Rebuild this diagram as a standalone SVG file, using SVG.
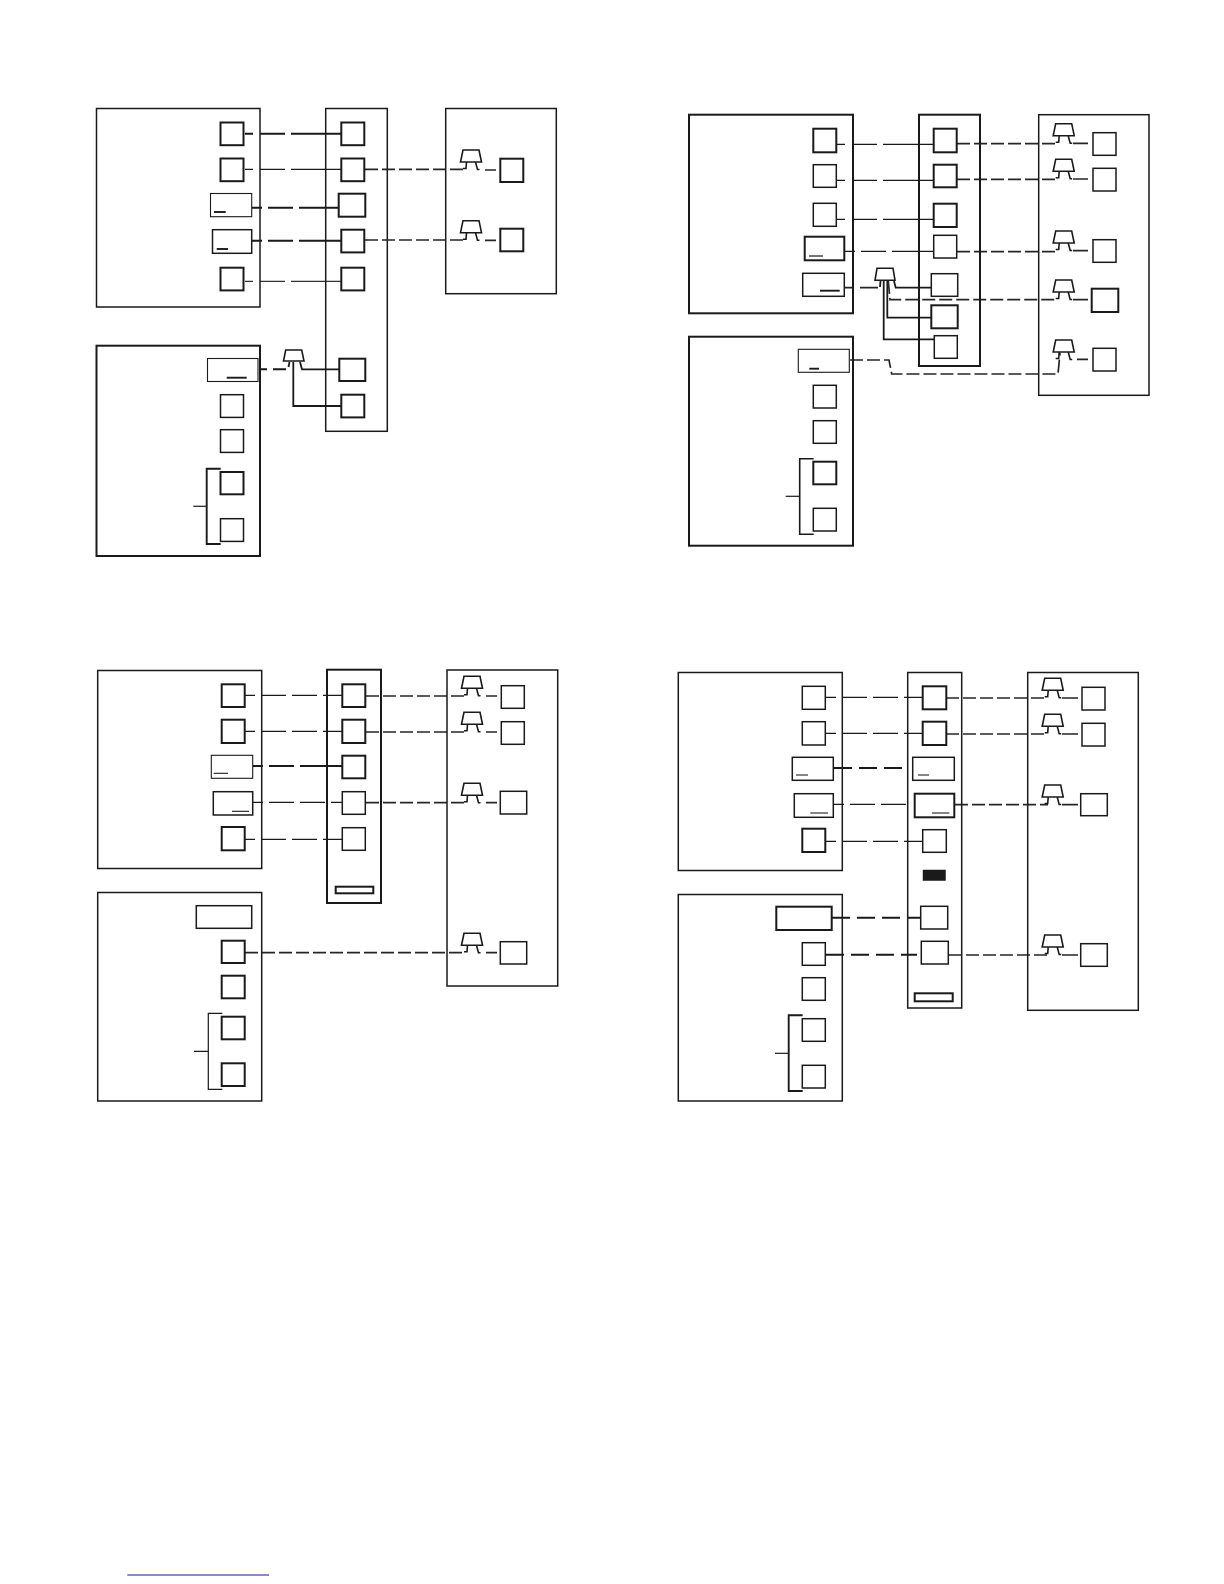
<svg xmlns="http://www.w3.org/2000/svg" xmlns:xlink="http://www.w3.org/1999/xlink" width="1224" height="1584" viewBox="0 0 1224 1584">
<style>
rect{fill:#fff;stroke:#1a1a1a;stroke-width:1.5}
.f{fill:none}
.t{stroke-width:1.1}
.k{stroke-width:2}
path{fill:none;stroke:#1a1a1a;stroke-width:1.2}
.s{stroke-width:1.9}
.g{stroke:#333}
.a{stroke-dasharray:8 7 25 6 200}
.c{stroke-dasharray:10 6 25 6 200}
.u{stroke-dasharray:10 6 25 6 25 6 25 6 25 6 25 6}
.r{stroke-dasharray:13 4;stroke-width:1.7;stroke:#262626}
.w{stroke-width:1.7;stroke:#262626}
.h{stroke-width:1.8}
.n{stroke-width:1.6}
.bk{fill:#1a1a1a;stroke:#1a1a1a}
.sym{stroke-width:1.6}
</style>
<defs>
<g id="sym"><path class="sym" d="M-8 0H8L10.500 12H-10.500ZM-4.500 12L-5 18.500H-8M4.500 12L6.500 19.500H8.500"/></g>
</defs>
<rect width="1224" height="1584" style="fill:#fff;stroke:none"/>

<g id="connectors">
<!-- diagram 1 -->
<path class="a s" d="M245 133.700H341"/>
<path class="a" d="M245 169.300H341"/>
<path class="c s" d="M252 207.700H339"/>
<path class="c s" d="M252 240.700H341"/>
<path class="a g" d="M245 281.300H341"/>
<path class="r" d="M365 169.300H466"/>
<path class="r" d="M365 240H466"/>
<path class="w" d="M485 170H496M485 240.300H496"/>
<path class="s" d="M260 369.300H267M273 369.300H286"/>
<path class="h" d="M300 362L302 369.300H339M293.300 362V406H341"/>
<path class="h" d="M289.500 362L288.500 367"/>
<!-- diagram 2 -->
<path class="a" d="M837 144.300H934M837 180.300H934M837 219.300H934"/>
<path class="c" d="M845 251.300H934"/>
<path class="r s" d="M957 143.700H1059"/>
<path class="r" d="M957 179.300H1059M957 251.700H1059"/>
<path class="w" d="M1073 143.300H1088M1073 179H1088M1073 250.700H1088M1073 299.700H1088M1077 359.300H1088"/>
<path class="w" d="M845 287.700H854M860 287.700H878"/>
<path class="h" d="M894 281L895.700 287.700H931M887.300 281V317.700H931M883.700 281V339.300H934M880.500 281L880 287"/>
<path class="r" d="M888.300 281L890 299.700H1058"/>
<path class="r" d="M850 360H889L891.700 374H1058L1060 353"/>
<!-- diagram 3 -->
<path class="u" d="M245 695.300H342M245 731.300H342M253 802.300H342M245 839.300H342"/>
<path class="c s" d="M253 766H342"/>
<path class="r" d="M366 696H466M366 732H466M366 802.700H466M245 952.700H463"/>
<path class="w" d="M486 696H497M486 732H497M486 802.700H497M486 952.700H497"/>
<!-- diagram 4 -->
<path class="u" d="M826 697.300H923M826 733.300H923M834 804.300H908M826 841.300H923"/>
<path class="s" stroke-dasharray="18 7" d="M834 768H908"/>
<path class="s" stroke-dasharray="18 7" d="M832 917.700H921M826 954.700H917"/>
<path class="r" d="M946 698H1048M946 734H1048M955 804.700H1048M949 955H1048"/>
<path class="w" d="M1062 698H1078M1062 734H1078M1062 804.700H1078M1062 955H1078"/>
</g>

<g id="d1-panel-a"><rect class="f" x="96.500" y="108.500" width="163.500" height="198.500"/></g>
<g id="d1-panel-b"><rect class="f k" x="96.500" y="345.700" width="163.500" height="210.300"/></g>
<g id="d1-rail"><rect class="f" x="325.700" y="108.500" width="61.600" height="322.800"/></g>
<g id="d1-load"><rect class="f" x="445.700" y="108.500" width="110.600" height="185.200"/></g>
<g id="d1-a1"><rect class="k" x="220.500" y="122.500" width="23" height="22.700"/></g>
<g id="d1-a2"><rect class="k" x="220.500" y="158.500" width="23" height="22.700"/></g>
<g id="d1-a3"><rect class="t" x="210.500" y="193.500" width="41.200" height="23.200"/><path class="s" d="M214 212H225.700"/></g>
<g id="d1-a4"><rect x="212.500" y="229.700" width="39.200" height="23.600"/><path class="s" d="M216.700 249H228"/></g>
<g id="d1-a5"><rect class="k" x="220.500" y="267.700" width="23" height="22.700"/></g>
<g id="d1-b1"><rect class="t" x="207.500" y="358.500" width="50.500" height="23"/><path class="s" d="M226.700 377.700H246.700"/></g>
<g id="d1-b2"><rect x="220.500" y="394.700" width="23" height="22.700"/></g>
<g id="d1-b3"><rect x="220.500" y="429.700" width="23" height="22.700"/></g>
<g id="d1-b4"><rect class="k" x="220.500" y="472" width="23" height="22.300"/></g>
<g id="d1-b5"><rect x="220.500" y="518.700" width="23" height="22.700"/></g>
<g id="d1-bracket"><path class="s" d="M220.700 468.700H206.700V544H220.700"/><path d="M193.300 506.300H206.700"/></g>
<g id="d1-m1"><rect class="k" x="341.300" y="122.500" width="23" height="22.700"/></g>
<g id="d1-m2"><rect class="k" x="341.300" y="158.500" width="23" height="22.700"/></g>
<g id="d1-m3"><rect class="k" x="338.700" y="193.700" width="26.600" height="23"/></g>
<g id="d1-m4"><rect class="k" x="341.300" y="229.700" width="23" height="22.700"/></g>
<g id="d1-m5"><rect class="k" x="341.300" y="267.700" width="23" height="22.700"/></g>
<g id="d1-m6"><rect class="k" x="339.300" y="358.700" width="26" height="22.300"/></g>
<g id="d1-m7"><rect class="k" x="341.300" y="394.700" width="23" height="22.700"/></g>
<g id="d1-l1"><rect class="k" x="500.300" y="158.700" width="23" height="23.300"/></g>
<g id="d1-l2"><rect class="k" x="500.300" y="228.700" width="23" height="22.600"/></g>
<g id="d1-s1"><use xlink:href="#sym" href="#sym" x="471" y="150"/></g>
<g id="d1-s2"><use xlink:href="#sym" href="#sym" x="471" y="220.700"/></g>
<g id="d1-s3"><path class="sym" d="M285.700 350H301.700L304 361H283.500Z"/></g>

<g id="d2-panel-a"><rect class="f k" x="689" y="114.700" width="164" height="198.600"/></g>
<g id="d2-panel-b"><rect class="f k" x="689" y="336.700" width="164" height="209"/></g>
<g id="d2-rail"><rect class="f k" x="919" y="114.700" width="61" height="251.300"/></g>
<g id="d2-load"><rect class="f" x="1038.700" y="114.700" width="110.300" height="280.600"/></g>
<g id="d2-a1"><rect class="k" x="813.300" y="128.700" width="23" height="23.600"/></g>
<g id="d2-a2"><rect x="813.300" y="164.700" width="23" height="22.600"/></g>
<g id="d2-a3"><rect x="813.300" y="203.300" width="23" height="23"/></g>
<g id="d2-a4"><rect class="k" x="804.700" y="236.700" width="39.600" height="23.600"/><path d="M809 256H823"/></g>
<g id="d2-a5"><rect x="802.700" y="273.300" width="41.600" height="23"/><path class="s" d="M820 290.700H839.700"/></g>
<g id="d2-b1"><rect class="t" x="798.300" y="349.300" width="51" height="23"/><path class="s" d="M809.300 368.700H819"/></g>
<g id="d2-b2"><rect x="813.300" y="385.300" width="23" height="22.700"/></g>
<g id="d2-b3"><rect x="813.300" y="420.700" width="23" height="22.600"/></g>
<g id="d2-b4"><rect class="k" x="813.300" y="461.700" width="23" height="22.600"/></g>
<g id="d2-b5"><rect x="813.300" y="508.300" width="23" height="22.700"/></g>
<g id="d2-bracket"><path class="n" d="M813.700 458.700H799.700V534.300H813.700"/><path d="M785.700 496.300H799.700"/></g>
<g id="d2-m1"><rect class="k" x="933.700" y="128.700" width="23" height="23.600"/></g>
<g id="d2-m2"><rect class="k" x="933.700" y="164.700" width="23" height="22.600"/></g>
<g id="d2-m3"><rect class="k" x="933.700" y="203.700" width="23" height="23.300"/></g>
<g id="d2-m4"><rect x="933.700" y="235.300" width="23" height="22.700"/></g>
<g id="d2-m5"><rect x="931.300" y="273.700" width="26.400" height="22.600"/></g>
<g id="d2-m6"><rect class="k" x="931.300" y="305.300" width="26.400" height="23"/></g>
<g id="d2-m7"><rect x="934.300" y="335.700" width="23" height="22.600"/></g>
<g id="d2-l1"><rect x="1093" y="132.700" width="23" height="22.600"/></g>
<g id="d2-l2"><rect x="1093" y="168.300" width="23" height="22.700"/></g>
<g id="d2-l3"><rect x="1093" y="239.700" width="23" height="22.600"/></g>
<g id="d2-l4"><rect class="k" x="1091.700" y="288.700" width="26.600" height="23.300"/></g>
<g id="d2-l5"><rect x="1093" y="348.300" width="23" height="22.700"/></g>
<g id="d2-s1"><use xlink:href="#sym" href="#sym" x="1063.700" y="123.700"/></g>
<g id="d2-s2"><use xlink:href="#sym" href="#sym" x="1063.700" y="159.300"/></g>
<g id="d2-s3"><use xlink:href="#sym" href="#sym" x="1063.700" y="231"/></g>
<g id="d2-s4"><use xlink:href="#sym" href="#sym" x="1063.700" y="280"/></g>
<g id="d2-s5"><use xlink:href="#sym" href="#sym" x="1063.700" y="340"/></g>
<g id="d2-s6"><path class="sym" d="M877 268.300H893L895 280.300H875Z"/></g>

<g id="d3-panel-a"><rect class="f" x="97.700" y="670.500" width="164" height="198"/></g>
<g id="d3-panel-b"><rect class="f" x="97.700" y="892.500" width="164" height="208.500"/></g>
<g id="d3-rail"><rect class="f k" x="327" y="669.700" width="54" height="233.300"/></g>
<g id="d3-load"><rect class="f" x="447" y="670" width="110.700" height="316"/></g>
<g id="d3-a1"><rect class="k" x="221.700" y="684.300" width="23" height="22.700"/></g>
<g id="d3-a2"><rect class="k" x="221.700" y="719.700" width="23" height="23.300"/></g>
<g id="d3-a3"><rect class="t" x="211.300" y="755.300" width="41.400" height="23"/><path class="t" d="M213.700 773.300H228"/></g>
<g id="d3-a4"><rect x="213.300" y="791.700" width="39.400" height="23.300"/><path class="t" d="M232 811.300H249"/></g>
<g id="d3-a5"><rect class="k" x="221.700" y="827" width="23" height="23.300"/></g>
<g id="d3-b1"><rect x="196.300" y="905.700" width="55.400" height="22.600"/></g>
<g id="d3-b2"><rect class="k" x="221.700" y="940.700" width="23" height="22.300"/></g>
<g id="d3-b3"><rect class="k" x="221.700" y="975.700" width="23" height="22.600"/></g>
<g id="d3-b4"><rect class="k" x="221.700" y="1016.700" width="23" height="22.600"/></g>
<g id="d3-b5"><rect class="k" x="221.700" y="1063.300" width="23" height="22.700"/></g>
<g id="d3-bracket"><path d="M222.300 1013.300H208.300V1089.300H222.300M194 1051.300H208.300"/></g>
<g id="d3-m1"><rect class="k" x="342.300" y="684.300" width="23" height="22.700"/></g>
<g id="d3-m2"><rect class="k" x="342.300" y="719.700" width="23" height="23.300"/></g>
<g id="d3-m3"><rect class="k" x="342.300" y="755.700" width="23" height="22.600"/></g>
<g id="d3-m4"><rect x="342.300" y="791.700" width="23" height="22.600"/></g>
<g id="d3-m5"><rect x="342.300" y="827.700" width="23" height="22.600"/></g>
<g id="d3-slot"><rect class="k" x="335.700" y="886.700" width="37.600" height="6.600"/></g>
<g id="d3-l1"><rect x="501.300" y="685.700" width="23" height="22.600"/></g>
<g id="d3-l2"><rect x="501.300" y="721.700" width="23" height="22.600"/></g>
<g id="d3-l3"><rect x="500.300" y="791.300" width="26.400" height="22.700"/></g>
<g id="d3-l4"><rect x="500.300" y="941.700" width="26.400" height="22.300"/></g>
<g id="d3-s1"><use xlink:href="#sym" href="#sym" x="472" y="676.300"/></g>
<g id="d3-s2"><use xlink:href="#sym" href="#sym" x="472" y="712.300"/></g>
<g id="d3-s3"><use xlink:href="#sym" href="#sym" x="472" y="783.300"/></g>
<g id="d3-s4"><use xlink:href="#sym" href="#sym" x="472" y="933.300"/></g>

<g id="d4-panel-a"><rect class="f" x="678.300" y="672.500" width="164" height="198"/></g>
<g id="d4-panel-b"><rect class="f" x="678.300" y="894.500" width="164" height="206.500"/></g>
<g id="d4-rail"><rect class="f" x="907.700" y="672.500" width="54" height="335.500"/></g>
<g id="d4-load"><rect class="f" x="1027.700" y="672.500" width="110.600" height="337.800"/></g>
<g id="d4-a1"><rect x="802.300" y="686.300" width="23" height="23"/></g>
<g id="d4-a2"><rect x="802.300" y="721.700" width="23" height="23.300"/></g>
<g id="d4-a3"><rect x="792.300" y="757.300" width="41" height="23"/><path class="g" d="M796 775H808"/></g>
<g id="d4-a4"><rect x="794.300" y="793.700" width="39" height="23.600"/><path class="g" d="M810.300 813H828"/></g>
<g id="d4-a5"><rect class="k" x="802.300" y="828.700" width="23" height="23.300"/></g>
<g id="d4-b1"><rect class="k" x="776.300" y="906.700" width="55.400" height="23.300"/></g>
<g id="d4-b2"><rect x="802.300" y="942.700" width="23" height="22.600"/></g>
<g id="d4-b3"><rect x="802.300" y="977.700" width="23" height="22.600"/></g>
<g id="d4-b4"><rect x="802.300" y="1018.700" width="23" height="22.600"/></g>
<g id="d4-b5"><rect x="802.300" y="1065.300" width="23" height="22.700"/></g>
<g id="d4-bracket"><path class="s" d="M802.700 1015.300H788.700V1091H802.700"/><path d="M775 1053.300H788.700"/></g>
<g id="d4-m1"><rect class="k" x="922.700" y="686.300" width="23.600" height="23"/></g>
<g id="d4-m2"><rect class="k" x="922.700" y="721.700" width="23.600" height="23.300"/></g>
<g id="d4-m3"><rect x="912.700" y="757.300" width="41.600" height="23"/><path class="g" d="M918 775H929"/></g>
<g id="d4-m4"><rect class="k" x="914.700" y="793.700" width="39.600" height="23.600"/><path class="g" d="M932 813H949.300"/></g>
<g id="d4-m5"><rect x="922.700" y="829.700" width="23.600" height="22.600"/></g>
<g id="d4-black"><rect class="bk" x="923.500" y="870.500" width="21.500" height="9.500"/></g>
<g id="d4-m6"><rect x="920.700" y="906.300" width="27" height="22.700"/></g>
<g id="d4-m7"><rect x="921.300" y="941.300" width="27" height="22.700"/></g>
<g id="d4-slot"><rect class="k" x="914.700" y="993.300" width="38" height="8"/></g>
<g id="d4-l1"><rect x="1082" y="687.300" width="23" height="22.700"/></g>
<g id="d4-l2"><rect x="1082" y="723.300" width="23" height="22.700"/></g>
<g id="d4-l3"><rect x="1080.700" y="793.700" width="26.600" height="22"/></g>
<g id="d4-l4"><rect x="1080.700" y="943.700" width="26.600" height="22.600"/></g>
<g id="d4-s1"><use xlink:href="#sym" href="#sym" x="1052.700" y="678.300"/></g>
<g id="d4-s2"><use xlink:href="#sym" href="#sym" x="1052.700" y="714.300"/></g>
<g id="d4-s3"><use xlink:href="#sym" href="#sym" x="1052.700" y="785"/></g>
<g id="d4-s4"><use xlink:href="#sym" href="#sym" x="1052.700" y="935"/></g>

<path style="stroke:#1a1a8c;stroke-width:1.2" d="M127.300 1575H269"/>
</svg>
